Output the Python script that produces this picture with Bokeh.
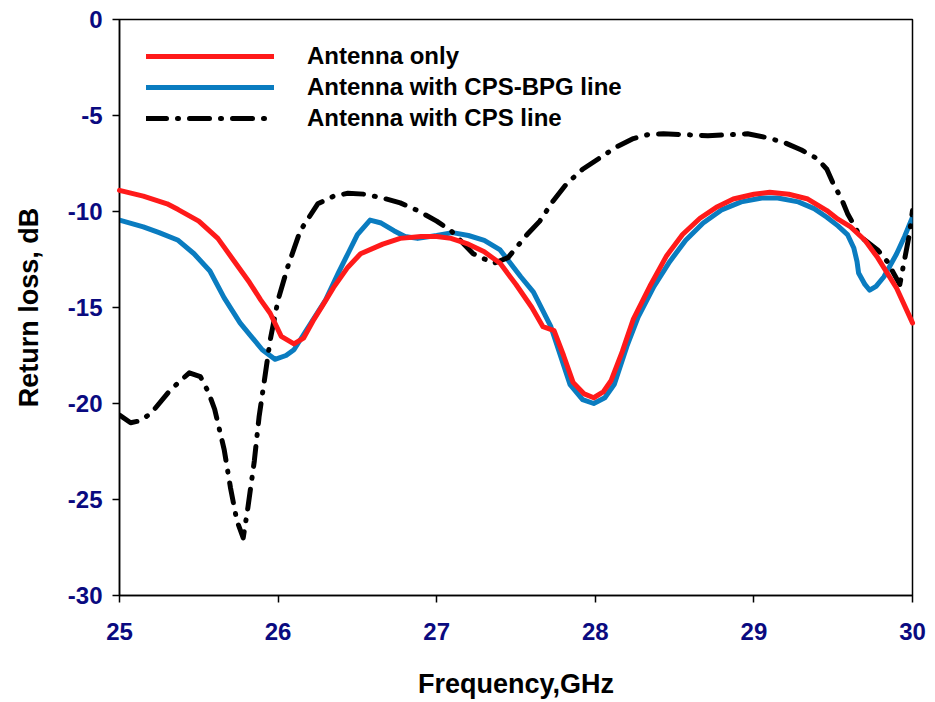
from bokeh.plotting import figure
from bokeh.models import Legend, LegendItem, FixedTicker, Range1d
from bokeh.embed import file_html
from bokeh.resources import INLINE

# ---- data ----
red_x = [25.0, 25.15, 25.3, 25.37, 25.5, 25.62, 25.72, 25.82, 25.89, 25.95, 26.02, 26.1, 26.16, 26.22,
         26.28, 26.35, 26.44, 26.52, 26.66, 26.77, 26.9, 27.0, 27.09, 27.2, 27.3, 27.4, 27.5, 27.6,
         27.67, 27.74, 27.8, 27.86, 27.93, 27.99, 28.05, 28.1, 28.17, 28.24, 28.35, 28.45, 28.55,
         28.66, 28.77, 28.87, 29.0, 29.1, 29.22, 29.34, 29.46, 29.53, 29.61, 29.7, 29.78, 29.9, 30.0]
red_y = [-8.9, -9.2, -9.6, -9.9, -10.5, -11.4, -12.55, -13.7, -14.6, -15.3, -16.5, -16.9, -16.6, -15.7,
         -14.9, -13.95, -12.9, -12.2, -11.7, -11.4, -11.3, -11.3, -11.4, -11.7, -12.1, -12.7, -13.8, -15.0,
         -16.0, -16.2, -17.5, -18.9, -19.5, -19.7, -19.4, -18.8, -17.3, -15.6, -13.8, -12.3, -11.2,
         -10.35, -9.75, -9.35, -9.1, -9.0, -9.1, -9.35, -9.95, -10.4, -10.8, -11.5, -12.4, -14.0, -15.8]

blue_x = [25.0, 25.15, 25.25, 25.37, 25.47, 25.57, 25.66, 25.76, 25.83, 25.9, 25.98, 26.05, 26.1, 26.2,
          26.3, 26.38, 26.44, 26.5, 26.58, 26.65, 26.73, 26.8, 26.88, 27.0, 27.1, 27.2, 27.3, 27.4,
          27.53, 27.61, 27.72, 27.78, 27.84, 27.92, 27.99, 28.06, 28.12, 28.2, 28.27, 28.37, 28.47,
          28.57, 28.68, 28.8, 28.92, 29.05, 29.15, 29.28, 29.38, 29.46, 29.53, 29.59, 29.63, 29.65,
          29.66, 29.7, 29.73, 29.77, 29.82, 29.9, 29.95, 30.0]
blue_y = [-10.45, -10.8, -11.1, -11.5, -12.2, -13.1, -14.5, -15.8, -16.5, -17.2, -17.7, -17.5, -17.2, -15.9,
          -14.6, -13.2, -12.2, -11.2, -10.45, -10.6, -11.0, -11.3, -11.4, -11.25, -11.1, -11.25, -11.5, -12.0,
          -13.4, -14.2, -16.0, -17.5, -19.0, -19.8, -20.0, -19.7, -19.0, -17.0, -15.5, -13.9, -12.6,
          -11.5, -10.6, -9.9, -9.5, -9.3, -9.3, -9.5, -9.85, -10.3, -10.75, -11.2, -11.9, -12.6,
          -13.2, -13.8, -14.1, -13.9, -13.4, -12.2, -11.3, -10.3]

black_x = [25.0, 25.07, 25.13, 25.2, 25.32, 25.44, 25.51, 25.56, 25.6, 25.66, 25.7, 25.74, 25.78, 25.81,
           25.85, 25.88, 25.91, 25.95, 26.0, 26.06, 26.14, 26.25, 26.35, 26.44, 26.55, 26.66, 26.77,
           26.88, 27.0, 27.09, 27.23, 27.36, 27.45, 27.49, 27.57, 27.65, 27.73, 27.82, 27.92, 28.03,
           28.13, 28.24, 28.33, 28.43, 28.57, 28.71, 28.85, 28.96, 29.08, 29.19, 29.3, 29.4, 29.46,
           29.5, 29.55, 29.59, 29.67, 29.78, 29.84, 29.88, 29.92, 29.95, 29.98, 30.0]
black_y = [-20.6, -21.0, -20.9, -20.5, -19.3, -18.4, -18.6, -19.4, -20.3, -22.4, -24.4, -26.1, -27.0, -25.4,
           -23.0, -20.7, -19.0, -16.7, -14.6, -12.9, -11.0, -9.6, -9.2, -9.05, -9.1, -9.3, -9.55,
           -9.95, -10.5, -11.0, -12.2, -12.7, -12.4, -12.0, -11.2, -10.5, -9.5, -8.55, -7.8, -7.2,
           -6.65, -6.2, -6.0, -5.95, -6.0, -6.05, -6.0, -5.95, -6.15, -6.4, -6.8, -7.25, -7.8,
           -8.55, -9.3, -10.1, -11.3, -12.0, -12.6, -13.2, -13.8, -12.5, -11.2, -9.95]

series_names = ["Antenna only", "Antenna with CPS-BPG line", "Antenna with CPS line"]
x_ticks = [25, 26, 27, 28, 29, 30]
y_ticks = [0, -5, -10, -15, -20, -25, -30]
x_tick_labels = ["25", "26", "27", "28", "29", "30"]
y_tick_labels = ["0", "-5", "-10", "-15", "-20", "-25", "-30"]

FONT = "Liberation Sans Narrow, Liberation Sans, Arial, sans-serif"
NAVY = "#0a0a80"

p = figure(width=935, height=702, output_backend="svg", toolbar_location=None,
           x_range=Range1d(25, 30), y_range=Range1d(-30, 0),
           min_border_left=119, min_border_right=23, min_border_top=19, min_border_bottom=107)
p.background_fill_color = "white"
p.border_fill_color = "white"
p.outline_line_color = "black"
p.outline_line_width = 1.5
p.grid.visible = False

r_red = p.line(red_x, red_y, line_color="#ff1a1a", line_width=5, line_join="round", line_cap="round")
r_blue = p.line(blue_x, blue_y, line_color="#0a7cc0", line_width=5, line_join="round", line_cap="round")
r_black = p.line(black_x, black_y, line_color="black", line_width=5, line_dash="20 11 1 11",
                 line_join="round", line_cap="round")
r_red.level = "overlay"

for ax, ticks, labels in ((p.xaxis[0], x_ticks, x_tick_labels), (p.yaxis[0], y_ticks, y_tick_labels)):
    ax.ticker = FixedTicker(ticks=ticks)
    ax.major_label_overrides = {t: l for t, l in zip(ticks, labels)}
    ax.axis_line_color = "black"
    ax.axis_line_width = 1.5
    ax.major_tick_line_color = "black"
    ax.major_tick_line_width = 1.5
    ax.major_tick_out = 7
    ax.major_tick_in = 0
    ax.minor_tick_out = 0
    ax.minor_tick_in = 0
    ax.major_label_text_font = FONT
    ax.major_label_text_font_style = "bold"
    ax.major_label_text_font_size = "24px"
    ax.major_label_text_color = NAVY
    ax.axis_label_text_font = "Liberation Sans, Arial, sans-serif"
    ax.axis_label_text_font_style = "bold"
    ax.axis_label_text_font_size = "27px"
    ax.axis_label_text_color = "black"

p.xaxis.axis_label = "Frequency,GHz"
p.yaxis.axis_label = "Return loss, dB"
p.xaxis.major_label_standoff = 20
p.yaxis.major_label_standoff = 10
p.xaxis.axis_label_standoff = 26
p.yaxis.axis_label_standoff = 21

legend = Legend(items=[LegendItem(label=series_names[0], renderers=[r_red]),
                       LegendItem(label=series_names[1], renderers=[r_blue]),
                       LegendItem(label=series_names[2], renderers=[r_black])],
                location=(27, 463), margin=0, padding=0, spacing=3,
                glyph_width=128, glyph_height=24, label_height=24, label_standoff=33,
                border_line_color=None, background_fill_alpha=0)
legend.label_text_font = "Liberation Sans, Arial, sans-serif"
legend.label_text_font_style = "bold"
legend.label_text_font_size = "24px"
legend.label_text_color = "black"
p.add_layout(legend)

open("out.html", "w").write(file_html(p, INLINE))
